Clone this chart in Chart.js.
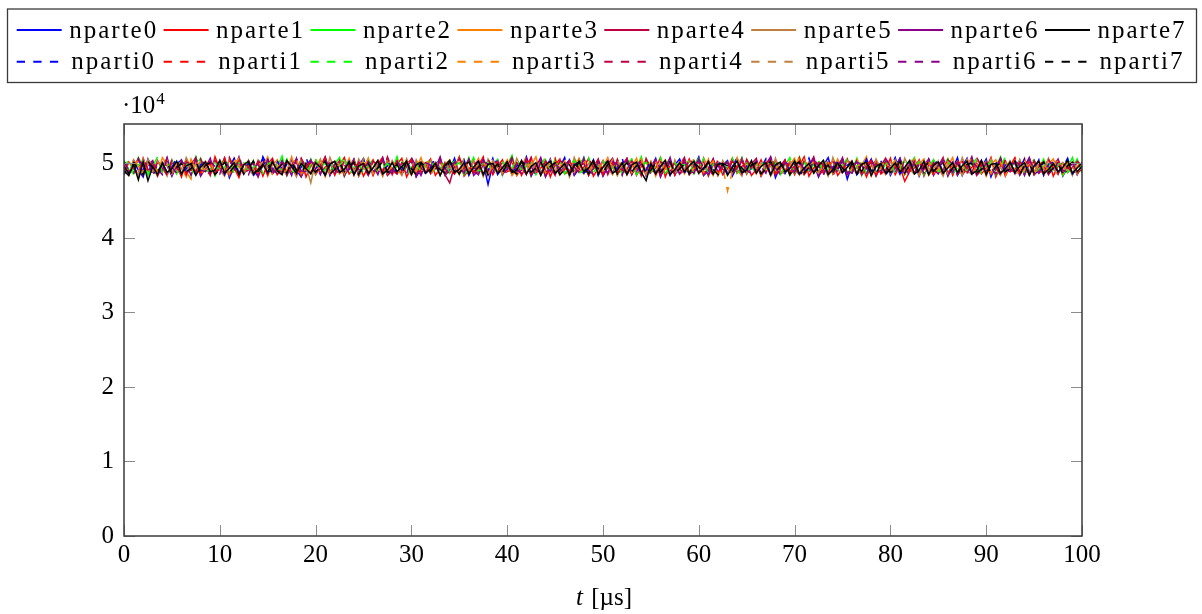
<!DOCTYPE html>
<html>
<head>
<meta charset="utf-8">
<script src="https://cdn.jsdelivr.net/npm/chart.js@4.4.1/dist/chart.umd.min.js"></script>
<style>
  html, body { margin: 0; padding: 0; background: #fff; }
  #wrap { width: 1202px; height: 614px; }
</style>
</head>
<body>
<div id="wrap"><canvas id="myChart" width="1202" height="614"></canvas></div>
<script>
let times = [0, 0.5, 1, 1.5, 2, 2.5, 3, 3.5, 4, 4.5, 5, 5.5, 6, 6.5, 7, 7.5, 8, 8.5, 9, 9.5,
    10, 10.5, 11, 11.5, 12, 12.5, 13, 13.5, 14, 14.5, 15, 15.5, 16, 16.5, 17, 17.5, 18, 18.5, 19, 19.5,
    20, 20.5, 21, 21.5, 22, 22.5, 23, 23.5, 24, 24.5, 25, 25.5, 26, 26.5, 27, 27.5, 28, 28.5, 29, 29.5,
    30, 30.5, 31, 31.5, 32, 32.5, 33, 33.5, 34, 34.5, 35, 35.5, 36, 36.5, 37, 37.5, 38, 38.5, 39, 39.5,
    40, 40.5, 41, 41.5, 42, 42.5, 43, 43.5, 44, 44.5, 45, 45.5, 46, 46.5, 47, 47.5, 48, 48.5, 49, 49.5,
    50, 50.5, 51, 51.5, 52, 52.5, 53, 53.5, 54, 54.5, 55, 55.5, 56, 56.5, 57, 57.5, 58, 58.5, 59, 59.5,
    60, 60.5, 61, 61.5, 62, 62.5, 63, 63.5, 64, 64.5, 65, 65.5, 66, 66.5, 67, 67.5, 68, 68.5, 69, 69.5,
    70, 70.5, 71, 71.5, 72, 72.5, 73, 73.5, 74, 74.5, 75, 75.5, 76, 76.5, 77, 77.5, 78, 78.5, 79, 79.5,
    80, 80.5, 81, 81.5, 82, 82.5, 83, 83.5, 84, 84.5, 85, 85.5, 86, 86.5, 87, 87.5, 88, 88.5, 89, 89.5,
    90, 90.5, 91, 91.5, 92, 92.5, 93, 93.5, 94, 94.5, 95, 95.5, 96, 96.5, 97, 97.5, 98, 98.5, 99, 99.5, 100];

let xTicks = [0, 10, 20, 30, 40, 50, 60, 70, 80, 90, 100];
let yTicks = [0, 10000, 20000, 30000, 40000, 50000];

let nparte0 = [49800, 48500, 50300, 49100, 48200, 50600, 49400, 48800, 50100, 49700,
    48300, 49900, 50500, 48700, 49200, 50800, 48400, 49600, 50200, 48900,
    49300, 50700, 48100, 49500, 50000, 48600, 50400, 49000, 48300, 50900,
    49600, 48700, 50200, 49300, 48500, 50600, 49100, 48200, 49800, 50400,
    48800, 49400, 50700, 48400, 49900, 50100, 48600, 49200, 50500, 48300,
    49700, 50300, 48900, 49500, 50800, 48500, 49000, 50200, 48700, 49800,
    50600, 48200, 49300, 50000, 48800, 49600, 50400, 48400, 49100, 50700,
    48600, 49700, 50300, 49300, 49500, 50100, 47200, 49900, 50500, 48700,
    49200, 50600, 48500, 49400, 50900, 48800, 49000, 50300, 48200, 49700,
    50200, 48900, 49600, 50500, 48400, 49300, 50800, 48600, 49900, 50100,
    48300, 49500, 50400, 48700, 49100, 50600, 48500, 49800, 50200, 48900,
    49400, 50700, 48200, 49700, 50300, 48600, 49200, 50500, 48800, 49600,
    50900, 48400, 49000, 50100, 48700, 49800, 50400, 48300, 49500, 50600,
    48900, 49300, 50200, 48500, 49900, 50700, 48100, 49600, 50300, 48800,
    49100, 50500, 48600, 49400, 50000, 48200, 49700, 50800, 48700, 49200,
    50400, 47900, 49800, 50200, 48500, 49300, 50600, 48900, 49000, 50300,
    48400, 49600, 50700, 48800, 49100, 50100, 48300, 49900, 50500, 48600,
    49500, 50200, 48700, 49200, 50800, 48400, 49700, 50300, 48900, 49400,
    50600, 48200, 49800, 50000, 48600, 49300, 50400, 48800, 49600, 50700,
    48500, 49100, 50200, 48700, 49900, 50500, 48300, 49500, 50100, 48900, 49600];
let nparte1 = [48600, 50200, 49500, 48300, 50700, 49000, 48800, 50400, 49300, 48500,
    50100, 49700, 48200, 50600, 49100, 48700, 50300, 49800, 48400, 50900,
    49200, 48600, 50500, 49400, 48100, 50000, 49600, 48900, 50200, 48300,
    49900, 50700, 48500, 49300, 50400, 48800, 49000, 50600, 48200, 49700,
    50300, 48700, 49500, 50100, 48400, 49800, 50800, 48600, 49200, 50000,
    48300, 49600, 50500, 48900, 49100, 50300, 48500, 49900, 50700, 48200,
    49400, 50200, 48800, 49700, 50600, 48400, 49300, 50000, 48700, 49500,
    50900, 48300, 49100, 50400, 48600, 49800, 50200, 48500, 49600, 50500,
    48900, 49200, 50100, 48400, 49700, 50800, 48700, 49400, 50300, 48200,
    49800, 50600, 48600, 49000, 50200, 48800, 49500, 50700, 48300, 49300,
    50400, 48500, 49900, 50100, 48700, 49200, 50500, 48400, 49600, 50300,
    48800, 49400, 50800, 48200, 49700, 50000, 48600, 49100, 50600, 48900,
    49500, 50300, 48300, 49800, 50200, 48500, 49300, 50700, 48700, 49600,
    50100, 48400, 49200, 50500, 48800, 49900, 50400, 48600, 49000, 50200,
    48500, 49700, 50900, 48300, 49400, 50100, 48700, 49800, 50300, 48400,
    49300, 50600, 48800, 49500, 50000, 48200, 49700, 50400, 48600, 49100,
    50700, 48500, 49600, 47600, 48900, 49400, 50500, 48300, 49800, 50200,
    48700, 49200, 50600, 48400, 49900, 50300, 48800, 49500, 50100, 48600,
    49400, 50800, 48200, 49700, 50400, 48900, 49100, 50500, 48500, 49800,
    50200, 48700, 49300, 50600, 48300, 49600, 50100, 48800, 49500, 50400, 48900];
let nparte2 = [50400, 49200, 48600, 50800, 49700, 48400, 50200, 49000, 48900, 50600,
    48700, 49800, 50300, 48500, 49400, 50900, 48800, 49600, 50100, 48300,
    49900, 50500, 48600, 49300, 50700, 48900, 49100, 50400, 48500, 49700,
    50200, 48800, 49500, 51000, 48400, 49800, 50300, 48700, 49200, 50600,
    48600, 49400, 50100, 48900, 49900, 50800, 48300, 49600, 50500, 48800,
    49300, 50700, 48500, 49700, 50200, 48600, 49100, 50900, 48700, 49500,
    50400, 48400, 49800, 50000, 48800, 49400, 50600, 48500, 49900, 50300,
    48700, 49200, 50800, 48600, 49600, 50100, 48900, 49300, 50500, 48400,
    49800, 51100, 48700, 49500, 50200, 48300, 49700, 50400, 48800, 49100,
    50600, 48600, 49400, 50300, 48900, 49900, 50700, 48500, 49300, 50000,
    48800, 49600, 50500, 48400, 49800, 50200, 48700, 49500, 50900, 48600,
    49200, 50300, 48900, 49700, 50600, 48500, 49400, 50100, 48800, 49900,
    50700, 48400, 49300, 50400, 48700, 49600, 50200, 48900, 49100, 50800,
    48600, 49800, 50300, 48500, 49400, 50600, 48800, 49700, 50100, 48400,
    49500, 50900, 48700, 49200, 50400, 48900, 49800, 50200, 48600, 49600,
    50500, 48800, 49100, 50700, 48400, 49900, 50300, 48700, 49400, 50600,
    48900, 49600, 50200, 48500, 49700, 50800, 48600, 49300, 50400, 48800,
    49900, 50500, 48400, 49500, 50100, 48700, 49800, 50700, 48900, 49200,
    50300, 48600, 49600, 50900, 48800, 49400, 50200, 48500, 49700, 50500,
    48700, 49300, 50600, 48900, 49800, 50100, 48400, 49500, 50800, 48600, 49900];
let nparte3 = [49100, 48400, 50500, 49600, 48700, 50200, 49300, 48300, 50800, 49800,
    48600, 50000, 49400, 48200, 50600, 49000, 48800, 50300, 49700, 48500,
    50100, 49200, 48400, 50700, 49500, 48900, 50400, 48600, 49300, 50200,
    48300, 49800, 50500, 48700, 49100, 50900, 48500, 49600, 50000, 48800,
    49400, 50600, 48200, 49900, 50300, 48600, 49200, 50700, 48400, 49700,
    50200, 48900, 49500, 50400, 48300, 49800, 50100, 48700, 49000, 50600,
    48500, 49300, 50800, 48800, 49600, 50200, 48400, 49900, 50500, 48600,
    49200, 50300, 48700, 49400, 50700, 48300, 49800, 50100, 48900, 49500,
    50500, 48400, 49100, 50200, 48600, 49700, 50900, 48500, 49300, 50000,
    48800, 49600, 50400, 48200, 49900, 50600, 48700, 49200, 50300, 48400,
    49500, 50800, 48600, 49800, 50100, 48500, 49400, 50700, 48800, 49000,
    50300, 48300, 49700, 50500, 48900, 49200, 50200, 48600, 49600, 50400,
    48700, 49100, 50600, 48400, 49900, 50000, 48500, 49500, 50800, 48800,
    49300, 50200, 48600, 49700, 50500, 48300, 49400, 50100, 48900, 49800,
    50700, 48500, 49000, 50300, 48700, 49600, 50400, 48400, 49200, 50600,
    48800, 49500, 50200, 48600, 49800, 50900, 48300, 49700, 50000, 48500,
    49400, 50500, 48900, 49100, 50300, 48700, 49900, 50600, 48400, 49300,
    50100, 48600, 49600, 50800, 48500, 49200, 50400, 48800, 49700, 50200,
    48300, 49800, 50500, 48700, 49400, 50100, 48600, 49000, 50700, 48900,
    49500, 50300, 48400, 49900, 50600, 48800, 49300, 50200, 48500, 49700, 50000];
let nparte4 = [50300, 48800, 49400, 50700, 48500, 49900, 50100, 48300, 49600, 50500,
    48900, 49200, 50400, 48600, 49800, 50800, 48400, 49500, 50200, 48700,
    49300, 50600, 48500, 49700, 50000, 48800, 49100, 50300, 48200, 49900,
    50700, 48600, 49400, 50200, 48400, 49800, 50500, 48700, 49200, 50100,
    48500, 49600, 50900, 48800, 49300, 50400, 48300, 49700, 50000, 48600,
    49500, 50200, 48700, 49900, 50600, 48400, 49100, 50300, 48900, 49600,
    50500, 48300, 49800, 50100, 48600, 49400, 50700, 48500, 47400, 49700,
    48800, 49200, 50400, 48700, 49900, 50600, 48400, 49300, 50200, 48900,
    49600, 50800, 48500, 49100, 50300, 48700, 49800, 50500, 48300, 49400,
    50100, 48600, 49700, 50400, 48900, 49200, 50600, 48400, 49900, 50300,
    48700, 49500, 50200, 48500, 49800, 50700, 48800, 49300, 50000, 48600,
    49400, 50500, 48300, 49600, 50100, 48900, 49700, 50800, 48500, 49200,
    50300, 48700, 49100, 50600, 48400, 49800, 50200, 48800, 49500, 50400,
    48600, 49900, 50700, 48300, 49400, 50000, 48700, 49600, 50500, 48500,
    49200, 50300, 48900, 49700, 50900, 48400, 49100, 50200, 48600, 49800,
    50600, 48500, 49300, 50400, 48800, 49500, 50100, 48300, 49700, 50700,
    48900, 49400, 50200, 48600, 49900, 50500, 48700, 49200, 50300, 48400,
    49600, 50800, 48500, 49300, 50000, 48800, 49800, 50600, 48400, 49100,
    50200, 48700, 49500, 50700, 48300, 49700, 50400, 48900, 49000, 50300,
    48600, 49800, 50100, 48500, 49400, 50600, 48800, 49600, 50200, 48700, 49300];
let nparte5 = [48700, 50100, 49500, 48400, 50600, 49200, 48900, 50300, 49700, 48300,
    50500, 49000, 48600, 50800, 49400, 48500, 50200, 49800, 48800, 50400,
    49100, 48300, 50700, 49600, 48700, 50000, 49300, 48400, 50500, 49900,
    48600, 50300, 49200, 48900, 50100, 49500, 48200, 50600, 49700, 47400,
    50400, 49300, 48500, 50800, 49100, 48700, 50200, 49800, 48400, 50600,
    49400, 48800, 50300, 49600, 48300, 50700, 49000, 48600, 50100, 49900,
    48500, 50500, 49200, 48800, 50400, 49700, 48400, 50200, 49500, 48700,
    50900, 49100, 48600, 50300, 49800, 48300, 50600, 49400, 48900, 50100,
    49600, 48500, 50700, 49300, 48700, 50200, 49900, 48400, 50500, 49100,
    48800, 50400, 49700, 48300, 50800, 49200, 48600, 50000, 49500, 48900,
    50300, 49400, 48500, 50600, 49000, 48700, 50200, 49800, 48300, 50700,
    49300, 48800, 50100, 49600, 48400, 50500, 49100, 48900, 50300, 49700,
    48600, 50800, 49400, 48500, 50200, 49900, 48700, 50400, 49200, 48300,
    50600, 49500, 48800, 50100, 49700, 48400, 50700, 49000, 48600, 50300,
    49800, 48500, 50500, 49300, 48900, 50200, 49600, 48300, 50800, 49100,
    48700, 50400, 49500, 48600, 50000, 49900, 48400, 50600, 49300, 48800,
    50200, 49700, 48500, 50700, 49200, 48600, 50300, 49800, 48900, 50500,
    49400, 48300, 50100, 49600, 48700, 50800, 49100, 48500, 50400, 49900,
    48800, 50600, 49300, 48400, 50200, 49700, 48600, 50500, 49000, 48900,
    50300, 49500, 48700, 50700, 49200, 48500, 50100, 49800, 48400, 50400, 49600];
let nparte6 = [50200, 48900, 49300, 50600, 48500, 49800, 50400, 48700, 49100, 50800,
    48400, 49600, 50100, 48800, 49900, 50500, 48300, 49400, 50700, 48600,
    49700, 50300, 48500, 49200, 50900, 48700, 49500, 50000, 48400, 49800,
    50600, 48800, 49100, 50400, 48600, 49700, 50200, 48300, 49600, 50500,
    48900, 49300, 50800, 48500, 49900, 50100, 48700, 49400, 50600, 48400,
    49800, 50300, 48600, 49500, 50700, 48800, 49200, 50200, 48500, 49700,
    50400, 48300, 49600, 50000, 48900, 49300, 50900, 48600, 49800, 50100,
    48700, 49500, 50500, 48400, 49100, 50700, 48800, 49900, 50300, 48500,
    49400, 50600, 48700, 49700, 50200, 48300, 49500, 50800, 48900, 49200,
    50100, 48600, 49800, 50400, 48500, 49600, 50000, 48700, 49300, 50600,
    48400, 49900, 50700, 48800, 49200, 50300, 48600, 49700, 50500, 48300,
    49500, 50100, 48900, 49400, 50800, 48500, 49800, 50200, 48700, 49600,
    50500, 48400, 49300, 50600, 48800, 49900, 50100, 48600, 49400, 50700,
    48700, 49600, 50300, 48500, 49800, 50900, 48400, 49200, 50400, 48800,
    49700, 50200, 48600, 49500, 50600, 48300, 49900, 50000, 48900, 49400,
    50800, 48700, 49100, 50300, 48500, 49700, 50500, 48400, 49600, 50200,
    48800, 49300, 50700, 48600, 49800, 50100, 48700, 49500, 50600, 48500,
    49900, 50400, 48300, 49600, 50200, 48800, 49400, 50900, 48600, 49700,
    50300, 48500, 49200, 50500, 48700, 49900, 50000, 48400, 49500, 50800,
    48900, 49600, 50200, 48600, 49300, 50400, 48800, 49800, 50100, 48500, 49700];
let nparte7 = [49000, 48400, 49900, 47800, 50200, 47700, 49600, 48500, 50100, 48800,
    49300, 50300, 48600, 49700, 50000, 48400, 49500, 50200, 48900, 49100,
    50400, 48700, 49400, 50100, 48500, 49800, 50300, 48600, 49200, 49900,
    48800, 50200, 49000, 48500, 50400, 49600, 48700, 50000, 49300, 48600,
    50100, 49500, 48400, 49900, 50300, 48800, 49200, 50200, 48500, 49700,
    50000, 48700, 49400, 50400, 48600, 49100, 50100, 48900, 49600, 50300,
    48500, 49800, 50200, 48700, 49300, 50000, 48400, 49700, 50400, 48800,
    49200, 50100, 48600, 49500, 50300, 48500, 49900, 50000, 48700, 49400,
    50200, 48800, 49100, 50400, 48600, 49600, 50100, 48400, 49800, 50300,
    48700, 49300, 50000, 48500, 49700, 50200, 48900, 49400, 50400, 48600,
    49500, 50300, 48700, 49100, 50100, 48500, 49800, 50200, 48800, 47700,
    50000, 48600, 49600, 50400, 48500, 49200, 50100, 48900, 49700, 50300,
    48700, 49400, 50200, 48600, 49900, 50000, 48400, 49500, 50300, 48800,
    49100, 50400, 48700, 49600, 50100, 48500, 49800, 50200, 48900, 49300,
    50300, 48600, 49400, 50000, 48700, 49700, 50400, 48500, 49200, 50100,
    48800, 49500, 50300, 48600, 49900, 50200, 48400, 49600, 50000, 48700,
    49300, 50100, 48900, 49500, 50400, 48600, 49100, 50300, 48500, 49800,
    50200, 48700, 49400, 50100, 48800, 49700, 50300, 48600, 49000, 50400,
    48500, 49900, 50000, 48700, 49300, 50200, 48800, 49600, 50100, 48400,
    49700, 50300, 48600, 49200, 50000, 48900, 49500, 50400, 48700, 49400, 50100];

let nparti0 = [48500, 49700, 50400, 48900, 49200, 50600, 48300, 49900, 50100, 48700,
    49500, 50800, 48600, 49300, 50200, 48400, 49800, 50500, 48800, 49100,
    50300, 48500, 49600, 50700, 48700, 49400, 50000, 48300, 49700, 50600,
    48800, 49200, 50400, 48600, 49900, 50200, 48500, 49500, 50900, 48700,
    49300, 50100, 48400, 49800, 50500, 48900, 49100, 50300, 48600, 49600,
    50700, 48500, 49400, 50000, 48800, 49700, 50400, 48300, 49200, 50600,
    48700, 49900, 50200, 48500, 49500, 50800, 48600, 49300, 50100, 48900,
    49600, 50500, 48400, 49800, 50300, 48700, 49000, 50700, 48500, 49400,
    50200, 48800, 49700, 50400, 48300, 49600, 50000, 48900, 49300, 50600,
    48600, 49500, 50800, 48500, 49900, 50100, 48700, 49200, 50500, 48400,
    49800, 50300, 48800, 49400, 50700, 48600, 49700, 50200, 48500, 49100,
    50400, 48700, 49600, 50000, 48400, 49800, 50600, 48800, 49300, 50100,
    48500, 49200, 50500, 48700, 49900, 50300, 48600, 49500, 50800, 48300,
    49700, 50200, 48900, 49400, 50600, 48500, 49800, 50000, 48700, 49600,
    50300, 48400, 49100, 50700, 48800, 49700, 50200, 48600, 49400, 50500,
    48700, 49800, 50100, 48500, 49300, 50600, 48900, 49600, 50400, 48400,
    49500, 50800, 48600, 49200, 50300, 48700, 49900, 50000, 48500, 49700,
    50500, 48800, 49300, 50200, 48400, 49600, 50700, 48600, 49100, 50400,
    48900, 49700, 50300, 48500, 49800, 50100, 48700, 49400, 50600, 48600,
    49200, 50500, 48400, 49900, 50200, 48800, 49500, 50700, 48600, 49300, 50000];
let nparti1 = [50100, 48700, 49500, 50500, 48400, 49800, 50300, 48800, 49200, 50700,
    48600, 49400, 50200, 48500, 49900, 50600, 48700, 49300, 50000, 48400,
    49700, 50800, 48600, 49100, 50400, 48800, 49600, 50200, 48300, 49900,
    50500, 48500, 49300, 50100, 48700, 49800, 50600, 48400, 49400, 50300,
    48800, 49600, 50700, 48600, 49200, 50000, 48500, 49700, 50400, 48900,
    49500, 50200, 48400, 49900, 50800, 48700, 49100, 50300, 48600, 49600,
    50600, 48800, 49400, 50100, 48500, 49700, 50500, 48300, 49800, 50000,
    48700, 49300, 50400, 48800, 49600, 50900, 48500, 49200, 50200, 48600,
    49900, 50300, 48400, 49500, 50600, 48700, 49800, 50100, 48500, 49400,
    50700, 48600, 49200, 50400, 48900, 49600, 50000, 48400, 49700, 50500,
    48500, 49800, 50300, 48700, 49300, 50600, 48600, 49900, 50200, 48800,
    49400, 50500, 48500, 49700, 50100, 48400, 49500, 50800, 48700, 49100,
    50200, 48600, 49800, 50400, 48800, 49300, 50000, 48500, 49600, 50700,
    48900, 49500, 50100, 48400, 49900, 50500, 48600, 49200, 50300, 48700,
    49600, 50800, 48500, 49400, 50200, 48800, 49700, 50600, 48300, 49800,
    50400, 48700, 49300, 50000, 48600, 49900, 50300, 48500, 49500, 50100,
    48800, 49600, 50500, 48400, 49200, 50700, 48900, 49700, 50000, 48600,
    49400, 50200, 48700, 49800, 50600, 48500, 49300, 50400, 48800, 49900,
    50300, 48600, 49500, 50100, 48400, 49700, 50800, 48700, 49200, 50500,
    48500, 49900, 50200, 48800, 49600, 50400, 48600, 49400, 50000, 48700, 49800];
let nparti2 = [49300, 50600, 48700, 49800, 50200, 48500, 49600, 50900, 48800, 49400,
    50400, 48600, 49900, 50100, 48400, 49700, 50700, 48900, 49200, 50300,
    48800, 49500, 50500, 48600, 50000, 50800, 48500, 49400, 50200, 48700,
    49800, 50400, 48900, 49300, 50600, 48600, 49700, 50100, 48500, 49900,
    50700, 48700, 49200, 50300, 48800, 49600, 51000, 48500, 49500, 50200,
    48600, 49800, 50500, 48700, 49300, 50000, 48900, 49700, 50600, 48400,
    49600, 50300, 48800, 49900, 50700, 48600, 49200, 50400, 48700, 49800,
    50100, 48500, 49500, 50800, 48900, 49400, 50200, 48600, 49900, 50500,
    48700, 49300, 50600, 48800, 49700, 50300, 48500, 49600, 50900, 48900,
    49500, 50200, 48600, 49800, 50400, 48700, 49100, 50700, 48800, 49700,
    50500, 48900, 49400, 50100, 48600, 49900, 50600, 48500, 49300, 50300,
    48800, 49700, 50800, 48700, 49500, 50200, 48900, 49800, 50400, 48600,
    49400, 50600, 48500, 49900, 50000, 48800, 49600, 50700, 48700, 49200,
    50300, 48600, 49800, 50500, 48900, 49400, 50100, 48500, 49700, 50800,
    48700, 49500, 50200, 48800, 49900, 50600, 48600, 49300, 50400, 48900,
    49800, 50700, 48500, 49600, 50300, 48700, 49500, 50000, 48800, 49900,
    50400, 48600, 49200, 50800, 48900, 49700, 50200, 48500, 49600, 50500,
    48800, 49900, 50600, 48700, 49400, 50100, 48900, 49800, 50700, 48600,
    49700, 50300, 48500, 49500, 50900, 48800, 49300, 50200, 48700, 49800,
    50500, 48900, 49600, 50400, 48600, 49900, 50000, 48800, 49400, 50600, 48700];
let nparti3 = [50000, 48800, 49400, 50600, 48500, 49900, 50300, 48700, 49200, 50500,
    48600, 49700, 50100, 48900, 47900, 50800, 48400, 49500, 50200, 48700,
    49300, 50400, 48600, 49800, 50700, 48500, 49100, 50300, 48800, 49600,
    50900, 48400, 49500, 50100, 48700, 49900, 50500, 48600, 49300, 50200,
    48800, 49600, 50600, 48500, 49200, 50000, 48700, 49800, 50400, 48300,
    49500, 50700, 48600, 49400, 50300, 48800, 49700, 50100, 48500, 49900,
    50500, 48700, 49200, 50800, 48400, 49600, 50200, 48900, 49400, 50000,
    48600, 49800, 50400, 48700, 49300, 50600, 48500, 49900, 50100, 48800,
    49600, 50300, 48400, 49700, 50900, 48600, 49100, 50500, 48800, 49500,
    50200, 48500, 49800, 50000, 48700, 49400, 50700, 48600, 49900, 50300,
    48900, 49300, 50500, 48400, 49700, 50100, 48800, 49500, 50600, 48500,
    49900, 50200, 48700, 49200, 50400, 48600, 49800, 50800, 48500, 49400,
    50100, 48800, 49600, 50300, 48400, 49500, 46300, 48900, 49700, 50600,
    48700, 49400, 50200, 48500, 49900, 50500, 48800, 49200, 50000, 48600,
    49700, 50700, 48500, 49500, 50300, 48900, 49600, 50100, 48400, 49800,
    50400, 48600, 49300, 50800, 48700, 49900, 50200, 48500, 49400, 50500,
    48800, 49700, 50000, 48600, 49500, 50600, 48400, 49800, 50300, 48700,
    49200, 50500, 48800, 49600, 50100, 48500, 49900, 50700, 48600, 49300,
    50300, 48700, 49500, 50200, 48400, 49800, 50400, 48900, 49100, 50600,
    48500, 49900, 50100, 48700, 49400, 50500, 48600, 49700, 50200, 48800, 49500];
let nparti4 = [48900, 50300, 49600, 48500, 50700, 49200, 48700, 50100, 49800, 48400,
    50500, 49400, 48600, 50200, 49900, 48800, 50600, 49100, 48500, 50400,
    49700, 48700, 50800, 49300, 48600, 50000, 49500, 48900, 50300, 49800,
    48500, 50500, 49200, 48800, 50200, 49600, 48400, 50700, 49400, 48700,
    50100, 49900, 48600, 50400, 49300, 48500, 50600, 49700, 48800, 50200,
    49500, 48400, 50300, 49800, 48700, 50900, 49200, 48600, 50100, 49600,
    48800, 50500, 49400, 48500, 50300, 49900, 48700, 50000, 49100, 48600,
    50700, 49500, 48800, 50200, 49700, 48400, 50600, 49300, 48900, 50400,
    49800, 48600, 50100, 49500, 48500, 50800, 49200, 48700, 50300, 49600,
    48400, 50400, 49900, 48800, 50200, 49300, 48600, 50700, 49500, 48500,
    50000, 49700, 48700, 50500, 49100, 48900, 50300, 49800, 48400, 50600,
    49400, 48600, 50200, 49900, 48800, 50400, 49300, 48500, 50800, 49600,
    48700, 50100, 49500, 48400, 50600, 49200, 48900, 50300, 49700, 48600,
    50500, 49300, 48800, 50000, 49800, 48500, 50700, 49100, 48700, 50200,
    49600, 48400, 50400, 49400, 48900, 50100, 49900, 48600, 50500, 49200,
    48800, 50700, 49700, 48500, 50300, 49500, 48700, 50000, 49300, 48900,
    50200, 49800, 48600, 50600, 49100, 48400, 50400, 49600, 48800, 50100,
    49400, 48700, 50500, 49900, 48500, 50300, 49200, 48600, 50800, 49700,
    48900, 50000, 49500, 48400, 50600, 49300, 48800, 50200, 49800, 48500,
    50400, 49100, 48700, 50500, 49600, 48600, 50100, 49400, 48900, 50300, 49700];
let nparti5 = [49600, 48600, 50400, 49100, 48800, 50600, 49400, 48500, 50200, 49900,
    48700, 50100, 49300, 48400, 50700, 49700, 48900, 50300, 49200, 48600,
    50500, 49500, 48700, 50000, 49800, 48500, 50400, 49000, 48800, 50600,
    49300, 48600, 50200, 49700, 48400, 50800, 49100, 48900, 50100, 49600,
    48500, 50500, 49400, 48700, 50300, 49900, 48600, 50000, 49200, 48800,
    50700, 49500, 48500, 50200, 49800, 48700, 50400, 49300, 48400, 50600,
    49100, 48900, 50300, 49600, 48600, 50500, 49400, 48700, 50100, 49800,
    48500, 50800, 49200, 48800, 50000, 49700, 48400, 50400, 49500, 48600,
    50200, 49300, 48700, 50600, 49900, 48500, 50300, 49000, 48900, 50500,
    49600, 48400, 50100, 49400, 48800, 50700, 49200, 48600, 50200, 49800,
    48700, 50400, 49500, 48500, 50600, 49100, 48900, 50000, 49700, 48600,
    50300, 49400, 48800, 50500, 49900, 48400, 50200, 49300, 48700, 50800,
    49500, 48600, 50100, 49700, 48500, 50400, 49200, 48800, 50600, 49900,
    48700, 50300, 49400, 48600, 50200, 49600, 48400, 50500, 49100, 48900,
    50700, 49800, 48500, 50000, 49300, 48700, 50400, 49700, 48600, 50200,
    49200, 48800, 50600, 49500, 48400, 50300, 49900, 48700, 50100, 49400,
    48600, 50500, 49000, 48900, 50700, 49600, 48500, 50200, 49300, 48800,
    50400, 49700, 48600, 50100, 49500, 48400, 50600, 49200, 48900, 50300,
    49800, 48500, 50200, 49400, 48700, 50500, 49100, 48600, 50000, 49700,
    48800, 50400, 49300, 48500, 50600, 49900, 48700, 50100, 49500, 48600, 50200];
let nparti6 = [50300, 49000, 48600, 50500, 49700, 48800, 50100, 49300, 48500, 50700,
    49500, 48700, 50200, 49900, 48400, 50600, 49100, 48900, 50300, 49600,
    48600, 50400, 49400, 48700, 50800, 49200, 48500, 50100, 49800, 48800,
    50500, 49300, 48600, 50200, 49700, 48400, 50700, 49000, 48900, 50300,
    49600, 48500, 50400, 49500, 48700, 50000, 49900, 48600, 50600, 49200,
    48800, 50200, 49700, 48500, 50500, 49100, 48700, 50300, 49400, 48600,
    50800, 49600, 48400, 50100, 49800, 48900, 50400, 49300, 48600, 50200,
    49500, 48700, 50600, 49000, 48500, 50300, 49900, 48800, 50100, 49400,
    48600, 50500, 49200, 48700, 50700, 49600, 48400, 50200, 49800, 48900,
    50000, 49300, 48600, 50400, 49500, 48800, 50600, 49100, 48500, 50300,
    49700, 48700, 50200, 49900, 48400, 50500, 49400, 48900, 50100, 49600,
    48500, 50700, 49200, 48800, 50300, 49700, 48600, 50400, 49000, 48700,
    50600, 49500, 48500, 50000, 49800, 48400, 50200, 49300, 48800, 50500,
    49100, 48600, 50400, 49600, 48700, 50800, 49400, 48500, 50100, 49900,
    48800, 50300, 49200, 48600, 50600, 49700, 48400, 50000, 49500, 48900,
    50400, 49000, 48700, 50200, 49800, 48500, 50500, 49300, 48600, 50700,
    49600, 48800, 50100, 49400, 48400, 50300, 49900, 48700, 50600, 49200,
    48600, 50500, 49700, 48800, 50200, 49100, 48500, 50400, 49600, 48700,
    50100, 49400, 48600, 50700, 49300, 48900, 50300, 49800, 48400, 50500,
    49200, 48700, 50000, 49600, 48500, 50400, 49100, 48800, 50200, 49700, 48900];
let nparti7 = [49600, 48700, 50100, 49200, 48500, 50300, 49400, 48800, 49900, 50200,
    48600, 49500, 50000, 48900, 49300, 50300, 48700, 49800, 50100, 48500,
    49200, 50200, 48800, 49600, 50000, 48600, 49400, 50300, 48900, 49700,
    50100, 48500, 49300, 49900, 48700, 50200, 49100, 48600, 50000, 49500,
    48800, 49700, 50300, 48600, 49200, 50100, 48900, 49500, 50200, 48500,
    49800, 50000, 48700, 49400, 50300, 48800, 49100, 49900, 48600, 50200,
    49300, 48500, 50100, 49600, 48900, 50000, 49200, 48700, 50300, 49400,
    48600, 49800, 50200, 48800, 49500, 50100, 48500, 49300, 49900, 48700,
    50000, 49100, 48600, 50300, 49700, 48800, 49400, 50200, 48900, 49600,
    50100, 48500, 49200, 49800, 48700, 50300, 49500, 48600, 50000, 49300,
    48800, 49900, 50200, 48600, 49400, 50100, 48900, 49700, 50300, 48500,
    49100, 50000, 48800, 49600, 50200, 48700, 49300, 49900, 48600, 50100,
    49500, 48900, 50300, 49200, 48500, 50000, 49700, 48800, 50200, 49400,
    48700, 49800, 50100, 48600, 49300, 50300, 48900, 49600, 50000, 48500,
    49900, 50200, 48700, 49500, 50100, 48800, 49200, 49800, 48600, 50300,
    49400, 48600, 50000, 49700, 48900, 50200, 49100, 48500, 50100, 49600,
    48800, 49300, 50300, 48700, 49800, 50000, 48600, 49500, 50200, 48900,
    49700, 50100, 48500, 49400, 50300, 48800, 49900, 50000, 48700, 49200,
    50200, 48600, 49600, 50100, 48900, 49300, 50300, 48500, 49800, 49900,
    48700, 49500, 50200, 48800, 49400, 50000, 48600, 49700, 50100, 48900, 49600];

let seriesNames = ["nparte0", "nparte1", "nparte2", "nparte3", "nparte4", "nparte5", "nparte6", "nparte7",
    "nparti0", "nparti1", "nparti2", "nparti3", "nparti4", "nparti5", "nparti6", "nparti7"];
let seriesColors = ["#0000ff", "#ff0000", "#00ff00", "#ff8000", "#bf0040", "#bf8040", "#8a008a", "#000000"];
let allSeries = [nparte0, nparte1, nparte2, nparte3, nparte4, nparte5, nparte6, nparte7,
    nparti0, nparti1, nparti2, nparti3, nparti4, nparti5, nparti6, nparti7];

const serif = '"Liberation Serif", "Times New Roman", serif';
const dash = [8.3, 8.3];

// drawing order: the two black series sit on top of the coloured ones
function drawOrder(i) {
    if (i === 15) return 0;
    if (i === 7) return 1;
    return 16 - i;
}

let datasets = allSeries.map((vals, i) => ({
    label: seriesNames[i],
    data: vals.map((v, k) => ({x: times[k], y: v})),
    borderColor: seriesColors[i % 8],
    borderWidth: 1.5,
    borderDash: i >= 8 ? dash : [],
    pointRadius: 0,
    fill: false,
    tension: 0,
    order: drawOrder(i)
}));

// frame with inside ticks on all four sides, the ·10^4 factor, x title and legend box
const decorations = {
    id: 'decorations',
    afterDraw(chart) {
        const ctx = chart.ctx;
        const a = chart.chartArea;
        const xs = chart.scales.x;
        const ys = chart.scales.y;
        ctx.save();

        ctx.strokeStyle = '#8c8c8c';
        ctx.lineWidth = 1;
        ctx.beginPath();
        xs.ticks.forEach(t => {
            const px = Math.round(xs.getPixelForValue(t.value)) + 0.5;
            ctx.moveTo(px, a.bottom); ctx.lineTo(px, a.bottom - 11);
            ctx.moveTo(px, a.top); ctx.lineTo(px, a.top + 11);
        });
        ys.ticks.forEach(t => {
            const py = Math.round(ys.getPixelForValue(t.value)) + 0.5;
            ctx.moveTo(a.left, py); ctx.lineTo(a.left + 11, py);
            ctx.moveTo(a.right, py); ctx.lineTo(a.right - 11, py);
        });
        ctx.stroke();

        ctx.strokeStyle = '#3a3a3a';
        ctx.lineWidth = 1.5;
        ctx.strokeRect(a.left, a.top, a.right - a.left, a.bottom - a.top);

        // scale factor above the y axis
        ctx.fillStyle = '#000';
        ctx.textBaseline = 'alphabetic';
        ctx.textAlign = 'left';
        ctx.font = '25px ' + serif;
        ctx.fillText('\u00b710', a.left - 2, a.top - 11);
        const w10 = ctx.measureText('\u00b710').width;
        ctx.font = '17px ' + serif;
        ctx.fillText('4', a.left - 2 + w10 + 1, a.top - 20);

        // x axis title
        ctx.font = 'italic 25px ' + serif;
        const wt = ctx.measureText('t').width;
        ctx.font = '25px ' + serif;
        const wr = ctx.measureText(' [\u00b5s]').width;
        const cx = (a.left + a.right) / 2;
        let sx = cx - (wt + wr) / 2;
        ctx.font = 'italic 25px ' + serif;
        ctx.fillText('t', sx, 605);
        ctx.font = '25px ' + serif;
        ctx.fillText(' [\u00b5s]', sx + wt + 2, 605);

        // legend: 8 columns, 2 rows
        ctx.strokeStyle = '#3a3a3a';
        ctx.lineWidth = 1.3;
        ctx.strokeRect(7.5, 9, 1189, 73.5);
        const rowY = [30, 61.7];
        const baseY = [37.5, 69];
        chart.data.datasets.forEach((ds, i) => {
            const col = i % 8, row = Math.floor(i / 8);
            const x0 = 16.7 + col * 146.9;
            ctx.strokeStyle = ds.borderColor;
            ctx.lineWidth = 2;
            ctx.setLineDash(ds.borderDash);
            ctx.beginPath();
            ctx.moveTo(x0, rowY[row]);
            ctx.lineTo(x0 + 45, rowY[row]);
            ctx.stroke();
            ctx.setLineDash([]);
            ctx.fillStyle = '#000';
            ctx.font = '25px ' + serif;
            ctx.letterSpacing = '2px';
            ctx.textAlign = 'center';
            ctx.fillText(ds.label, x0 + 97, baseY[row]);
            ctx.letterSpacing = '0px';
        });

        ctx.restore();
    }
};

new Chart("myChart", {
    type: "line",
    data: {datasets: datasets},
    options: {
        responsive: false,
        animation: false,
        events: [],
        layout: {padding: {left: 0, top: 124, right: 120, bottom: 0}},
        plugins: {
            legend: {display: false},
            tooltip: {enabled: false}
        },
        scales: {
            x: {
                type: "linear",
                min: 0,
                max: 100,
                grid: {display: false, drawTicks: false},
                border: {display: false},
                ticks: {
                    font: {family: serif, size: 25},
                    color: "#000",
                    padding: 4,
                    maxRotation: 0,
                    autoSkip: false
                },
                afterBuildTicks: s => { s.ticks = xTicks.map(v => ({value: v})); },
                afterFit: s => { s.height = 78; }
            },
            y: {
                type: "linear",
                min: 0,
                max: 55300,
                grid: {display: false, drawTicks: false},
                border: {display: false},
                ticks: {
                    font: {family: serif, size: 25},
                    color: "#000",
                    padding: 10,
                    callback: v => String(v / 10000)
                },
                afterBuildTicks: s => { s.ticks = yTicks.map(v => ({value: v})); },
                afterFit: s => { s.width = 124; }
            }
        }
    },
    plugins: [decorations]
});
</script>
</body>
</html>
